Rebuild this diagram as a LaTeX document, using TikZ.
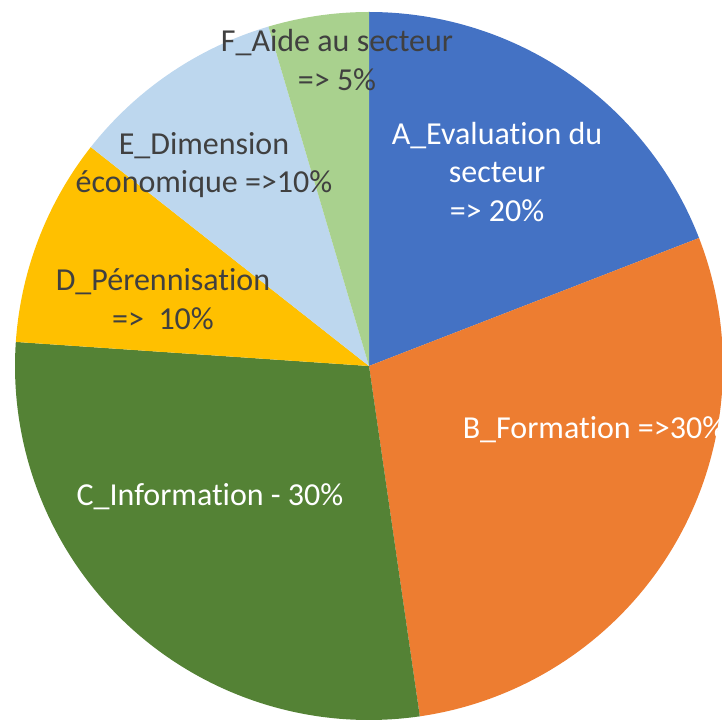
\documentclass[tikz,border=0pt]{standalone}
\usepackage{fontspec}
\setmainfont[Ligatures={NoCommon}]{Carlito}
\usepackage{tikz}

\definecolor{pieA}{HTML}{4472C4}
\definecolor{pieB}{HTML}{ED7D31}
\definecolor{pieC}{HTML}{548235}
\definecolor{pieD}{HTML}{FFC000}
\definecolor{pieE}{HTML}{BDD7EE}
\definecolor{pieF}{HTML}{A9D18E}
\definecolor{darktext}{HTML}{404040}

\begin{document}
\begin{tikzpicture}[x=1pt,y=1pt,
  lbl/.style={align=center,font=\fontsize{32}{38.5}\selectfont,inner sep=0pt},
  lbldark/.style={lbl,text=darktext},
  lblwhite/.style={lbl,text=white}]
\useasboundingbox (-369,-354) rectangle (353,366);
\coordinate (O) at (0,0);

% slices
\fill[pieA] (O) -- (90:354) arc[start angle=90,end angle=21.2,radius=354] -- cycle;
\fill[pieB] (O) -- (21.2:354) arc[start angle=21.2,end angle=-81.75,radius=354] -- cycle;
\fill[pieC] (O) -- (-81.75:354) arc[start angle=-81.75,end angle=-183.9,radius=354] -- cycle;
\fill[pieD] (O) -- (176.1:354) arc[start angle=176.1,end angle=141.8,radius=354] -- cycle;
\fill[pieE] (O) -- (141.8:354) arc[start angle=141.8,end angle=106.5,radius=354] -- cycle;
\fill[pieF] (O) -- (106.5:354) arc[start angle=106.5,end angle=90,radius=354] -- cycle;

% labels
\node[lblwhite] (labA) at (128,194) {A\_Evaluation du\\secteur\\=> 20\%};
\node[lblwhite] (labB) at (225,-64) {B\_Formation =>30\%};
\node[lblwhite] (labC) at (-159,-131) {C\_Information - 30\%};
\node[lbldark] (labD) at (-206,67) {D\_Pérennisation\\=>~~10\%};
\node[lbldark] (labE) at (-165,201) {E\_Dimension\\économique =>10\%};
\node[lbldark] (labF) at (-32,306) {F\_Aide au secteur\\=> 5\%};

\end{tikzpicture}
\end{document}
